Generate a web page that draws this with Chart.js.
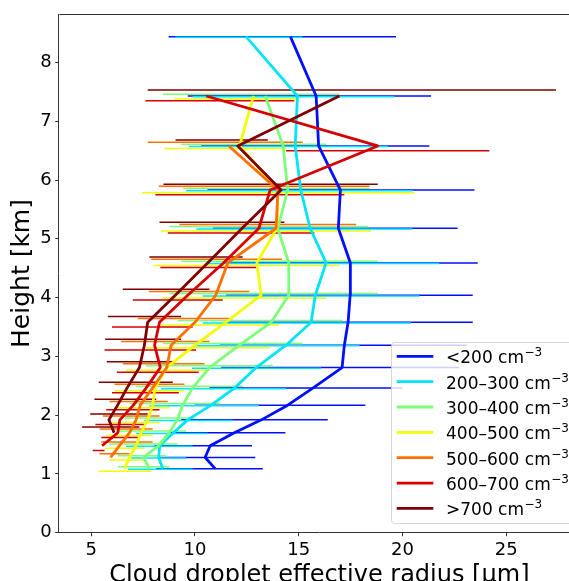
<!DOCTYPE html>
<html>
<head>
<meta charset="utf-8">
<script src="https://cdn.jsdelivr.net/npm/chart.js@4/dist/chart.umd.min.js"></script>
<style>
  html, body { margin: 0; padding: 0; background: #fff; overflow: hidden; }
  canvas { display: block; }
</style>
</head>
<body>
<canvas id="c" width="590" height="581"></canvas>
<script>
// ---- data ----
const heightKm = [1.09, 1.28, 1.48, 1.70, 1.92, 2.17, 2.46, 2.81, 3.19, 3.58, 4.04, 4.59, 5.18, 5.83, 6.58, 7.43, 8.44];

const seriesLabels = ['<200 cm', '200–300 cm', '300–400 cm', '400–500 cm', '500–600 cm', '600–700 cm', '>700 cm'];
const labelSuperscript = '−3';
const seriesColors = ['#0010ff', '#00e4f8', '#7cff79', '#f1fc06', '#ff6f00', '#d60000', '#7f0000'];

// mean effective radius (µm) per height row; null = no data
const reLt200   = [10.97, 10.49, 10.73, 11.9, 13.2, 14.47, 15.68, 17.09, 17.2, 17.38, 17.48, 17.49, 16.91, 17.01, 15.96, 15.84, 14.6];
const re200_300 = [8.45, 8.25, 8.3, 8.96, 9.65, 10.78, 11.9, 12.95, 14.39, 15.6, 15.8, 16.32, 15.55, 15.1, 14.83, 14.94, 12.46];
const re300_400 = [7.8, 7.52, 8.25, 8.75, 9.15, 9.4, 9.88, 10.7, 12.14, 13.67, 14.52, 14.52, 13.99, 14.47, 14.25, 13.39, null];
const re400_500 = [6.6, 6.84, 7.16, 7.4, 7.72, 7.96, 8.07, 8.63, 10.0, 11.48, 13.19, 12.98, 13.95, 14.0, 12.15, 12.82, null];
const re500_600 = [null, 5.93, 6.36, 6.84, 7.16, 7.36, 7.95, 8.64, 8.85, 10.0, 11.0, 11.58, 13.91, 14.0, 11.63, null, null];
const re600_700 = [null, null, 5.52, 6.28, 6.38, 7.03, 7.64, 8.33, 8.05, 8.29, 9.65, 11.37, 13.08, 13.62, 18.81, 10.54, null];
const reGt700   = [null, null, null, 6.1, 5.85, 6.27, 6.72, 7.32, 7.56, 7.72, 9.05, 10.61, 12.27, 14.15, 12.06, 16.96, null];

// error bar lower / upper ends (µm)
const loLt200   = [8.13, 8.29, 8.05, 8.69, 9.33, 9.97, 10.7, 11.26, 11.18, 11.5, 11.5, 11.5, 10.86, 10.6, 10.3, 9.65, 8.73];
const hiLt200   = [13.27, 12.91, 12.75, 14.36, 16.4, 18.21, 20.01, 22.74, 23.1, 23.39, 23.39, 23.63, 22.66, 23.47, 21.3, 21.38, 19.69];
const lo200_300 = [6.76, 6.92, 6.68, 7.16, 7.56, 7.8, 8.37, 9.85, 9.89, 10.37, 10.37, 10.54, 10.06, 9.57, 9.7, 9.89, 9.06];
const hi200_300 = [9.89, 9.57, 9.89, 10.61, 11.82, 13.07, 14.39, 16.08, 17.93, 20.42, 20.82, 21.78, 20.49, 20.49, 19.29, 19.61, 15.19];
const lo300_400 = [6.28, 6.28, 5.88, 6.28, 6.6, 6.84, 7.16, 7.64, 8.45, 9.17, 8.77, 9.33, 8.77, 9.41, 9.33, 8.45, null];
const hi300_400 = [8.77, 8.61, 9.17, 9.57, 9.97, 11.18, 12.3, 13.75, 15.19, 17.12, 18.81, 18.81, 18.33, 18.41, 16.32, 16.96, null];
const lo400_500 = [5.36, 5.88, 5.64, 5.72, 5.84, 6.12, 6.12, 6.68, 7.64, 8.37, 8.45, 8.0, 8.37, 7.45, 8.53, 9.0, null];
const hi400_500 = [7.89, 7.64, 7.56, 7.96, 8.29, 8.77, 9.49, 10.7, 13.59, 14.04, 16.32, 16.96, 18.49, 20.58, 14.4, 15.0, null];
const lo500_600 = [null, 5.4, 5.48, 5.4, 5.56, 5.88, 6.12, 6.52, 6.44, 7.24, 7.77, 7.89, 9.25, 8.25, 7.72, null, null];
const hi500_600 = [null, 6.84, 7.96, 7.96, 8.29, 8.69, 9.49, 10.46, 10.7, 11.82, 12.62, 14.2, 17.77, 18.41, 15.19, null, null];
const lo600_700 = [null, null, 5.07, 5.48, 5.2, 5.72, 6.0, 6.23, 5.64, 6.0, 7.0, 8.33, 8.69, 8.09, 14.39, 7.61, null];
const hi600_700 = [null, null, 5.64, 7.32, 7.56, 8.29, 9.22, 10.18, 10.05, 9.89, 11.34, 12.95, 15.76, 17.2, 24.19, 14.79, null];
const loGt700   = [null, null, null, 4.56, 4.95, 5.15, 5.36, 5.75, 5.67, 5.8, 6.52, 7.8, 8.29, 8.48, 9.06, 7.72, null];
const hiGt700   = [null, null, null, 7.32, 7.72, 8.13, 8.93, 9.01, 9.33, 9.33, 10.7, 12.3, 14.31, 18.81, 13.51, 27.4, null];

const xTickValues = [5, 10, 15, 20, 25];
const yTickValues = [0, 1, 2, 3, 4, 5, 6, 7, 8];

// ---- presentation ----
const meanSeries = [reLt200, re200_300, re300_400, re400_500, re500_600, re600_700, reGt700];
const loSeries = [loLt200, lo200_300, lo300_400, lo400_500, lo500_600, lo600_700, loGt700];
const hiSeries = [hiLt200, hi200_300, hi300_400, hi400_500, hi500_600, hi600_700, hiGt700];
// small vertical dodge of the error bars (km), as in the figure
const barDodgeKm = [0, -0.011, 0.03, -0.045, 0.064, -0.08, 0.1];

const FONT = 'DejaVu Sans';
const datasets = [];
meanSeries.forEach((m, s) => {
  const pts = [];
  heightKm.forEach((h, i) => { if (m[i] !== null) pts.push({x: m[i], y: h}); });
  datasets.push({
    label: seriesLabels[s], data: pts, showLine: true,
    borderColor: seriesColors[s], backgroundColor: seriesColors[s],
    borderWidth: 2.8, pointRadius: 0, borderJoinStyle: 'round', borderCapStyle: 'butt',
    order: 10 - s
  });
});
meanSeries.forEach((m, s) => {
  const pts = [];
  heightKm.forEach((h, i) => {
    if (loSeries[s][i] !== null) {
      const y = h + barDodgeKm[s];
      pts.push({x: loSeries[s][i], y: y}, {x: hiSeries[s][i], y: y}, {x: null, y: null});
    }
  });
  datasets.push({
    label: seriesLabels[s] + ' range', data: pts, showLine: true, spanGaps: false,
    borderColor: seriesColors[s], borderWidth: 1.5, pointRadius: 0,
    borderCapStyle: 'butt', order: 30 - s
  });
});

const framePlugin = {
  id: 'frame',
  afterDraw(chart) {
    const {ctx, chartArea: a} = chart;
    ctx.save();
    ctx.strokeStyle = '#333';
    ctx.lineWidth = 1;
    ctx.beginPath();
    ctx.moveTo(Math.round(a.left) + 0.5, Math.round(a.top) + 0.5);
    ctx.lineTo(Math.round(a.right) + 0.5, Math.round(a.top) + 0.5);
    ctx.lineTo(Math.round(a.right) + 0.5, a.bottom);
    ctx.stroke();
    ctx.restore();
  }
};

const legendPlugin = {
  id: 'innerLegend',
  afterDraw(chart) {
    const ctx = chart.ctx;
    const bx = 391.5, by = 342.5, bw = 183, bh = 181, r = 3;
    ctx.save();
    ctx.beginPath();
    ctx.moveTo(bx + r, by);
    ctx.lineTo(bx + bw - r, by); ctx.arcTo(bx + bw, by, bx + bw, by + r, r);
    ctx.lineTo(bx + bw, by + bh - r); ctx.arcTo(bx + bw, by + bh, bx + bw - r, by + bh, r);
    ctx.lineTo(bx + r, by + bh); ctx.arcTo(bx, by + bh, bx, by + bh - r, r);
    ctx.lineTo(bx, by + r); ctx.arcTo(bx, by, bx + r, by, r);
    ctx.closePath();
    ctx.fillStyle = 'rgba(255,255,255,0.8)';
    ctx.fill();
    ctx.strokeStyle = 'rgba(204,204,204,0.8)';
    ctx.lineWidth = 1;
    ctx.stroke();
    seriesLabels.forEach((lab, s) => {
      const yc = 356.3 + s * 25.35;
      ctx.strokeStyle = seriesColors[s];
      ctx.lineWidth = 2.8;
      ctx.beginPath();
      ctx.moveTo(396.7, yc); ctx.lineTo(433.3, yc);
      ctx.stroke();
      ctx.fillStyle = '#000';
      ctx.textBaseline = 'alphabetic';
      ctx.textAlign = 'left';
      ctx.font = '17px "' + FONT + '"';
      ctx.fillText(lab, 446, yc + 7);
      const w = ctx.measureText(lab).width;
      ctx.font = '12px "' + FONT + '"';
      ctx.fillText(labelSuperscript, 446 + w + 0.5, yc);
    });
    ctx.restore();
  }
};

new Chart(document.getElementById('c'), {
  type: 'scatter',
  data: { datasets },
  plugins: [framePlugin, legendPlugin],
  options: {
    responsive: false,
    animation: false,
    devicePixelRatio: 1,
    events: [],
    layout: { padding: { top: 14.3, right: 10, left: 0, bottom: 0 } },
    plugins: { legend: { display: false }, tooltip: { enabled: false } },
    scales: {
      x: {
        type: 'linear', position: 'bottom', min: 3.43, max: 28.56,
        afterBuildTicks: s => { s.ticks = xTickValues.map(v => ({value: v})); },
        afterFit: s => { s.height = 48.3; },
        grid: { drawOnChartArea: false, drawTicks: true, tickLength: 3.5, color: '#333', tickWidth: 1 },
        border: { display: true, color: '#333', width: 1 },
        ticks: { font: { family: FONT, size: 18 }, color: '#000', padding: 3, maxRotation: 0, autoSkip: false },
        title: { display: true, text: 'Cloud droplet effective radius [μm]', color: '#000',
                 font: { family: FONT, size: 24, lineHeight: 0.42 }, padding: { top: 0, bottom: 0 } }
      },
      y: {
        type: 'linear', position: 'left', min: 0, max: 8.82,
        afterBuildTicks: s => { s.ticks = yTickValues.map(v => ({value: v})); },
        afterFit: s => { s.width = 58.7; },
        grid: { drawOnChartArea: false, drawTicks: true, tickLength: 3.5, color: '#333', tickWidth: 1 },
        border: { display: true, color: '#333', width: 1 },
        ticks: { font: { family: FONT, size: 18 }, color: '#000', padding: 3.5, autoSkip: false },
        title: { display: true, text: 'Height [km]', color: '#000',
                 font: { family: FONT, size: 25, lineHeight: 0.7 }, padding: { top: 14, bottom: 0 } }
      }
    }
  }
});
</script>
</body>
</html>
